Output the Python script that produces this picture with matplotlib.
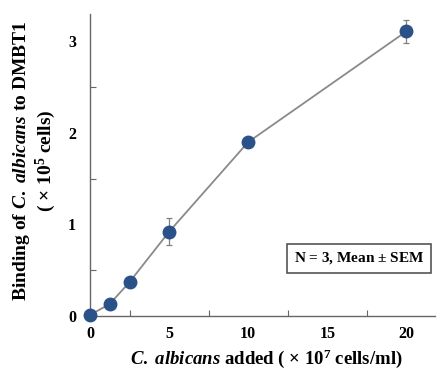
import matplotlib
matplotlib.use('Agg')
import matplotlib.pyplot as plt
from matplotlib.ticker import MultipleLocator

# data
cells_added = [0, 1.25, 2.5, 5, 10, 20]
binding = [0.01, 0.13, 0.37, 0.92, 1.90, 3.11]
sem_err = [0.0, 0.03, 0.02, 0.15, 0.02, 0.13]
x_ticks = [0, 5, 10, 15, 20]
y_ticks = [0, 1, 2, 3]

plt.rcParams['font.family'] = 'Liberation Serif'
plt.rcParams['font.weight'] = 'bold'
plt.rcParams['mathtext.fontset'] = 'custom'
plt.rcParams['mathtext.rm'] = 'Liberation Serif:bold'
plt.rcParams['mathtext.it'] = 'Liberation Serif:italic:bold'
plt.rcParams['mathtext.bf'] = 'Liberation Serif:bold'

fig = plt.figure(figsize=(4.37, 3.69), dpi=100)
ax = fig.add_axes([0.206, 0.144, 0.789, 0.818])

# grey connecting line, grey error bars, blue markers on top
ax.plot(cells_added, binding, '-', color='#8a8a8a', lw=1.3, zorder=2)
ax.errorbar(cells_added, binding, yerr=sem_err, fmt='none',
            ecolor='#808080', elinewidth=0.9, capsize=2.5, capthick=0.9, zorder=3)
ax.plot(cells_added, binding, 'o', color='#2b5288', markersize=9, zorder=4)

ax.set_xlim(0, 21.8)
ax.set_ylim(0, 3.3)
ax.set_xticks(x_ticks)
ax.set_yticks(y_ticks)
ax.xaxis.set_minor_locator(MultipleLocator(2.5))
ax.yaxis.set_minor_locator(MultipleLocator(0.5))
ax.tick_params(which='both', direction='in', width=0.8, color='#666666',
               labelsize=11.5, pad=10)
ax.tick_params(axis='x', pad=7)
ax.tick_params(which='major', length=0)
ax.tick_params(which='minor', length=4)
for lbl in ax.get_xticklabels() + ax.get_yticklabels():
    lbl.set_fontweight('bold')

for side in ['top', 'right']:
    ax.spines[side].set_visible(False)
for side in ['left', 'bottom']:
    ax.spines[side].set_color('#666666')
    ax.spines[side].set_linewidth(1.0)
for art in ax.get_children():
    art.set_clip_on(False)

fig.text(0.61, 0.028, r'$\mathit{C.\ albicans}$ added ( $\times$ 10$^{7}$ cells/ml)',
         ha='center', va='center', fontsize=13.5, fontweight='bold')
fig.text(0.05, 0.565, r'Binding of $\mathit{C.\ albicans}$ to DMBT1',
         rotation=90, ha='center', va='center', fontsize=14, fontweight='bold')
fig.text(0.105, 0.565, r'( $\times$ 10$^{5}$ cells)', rotation=90,
         ha='center', va='center', fontsize=14, fontweight='bold')

ax.text(0.78, 0.19, r'N = 3, Mean $\pm$ SEM', transform=ax.transAxes,
        ha='center', va='center', fontsize=11, fontweight='bold',
        bbox=dict(boxstyle='square,pad=0.45', fc='white', ec='#555555', lw=1.2))

plt.savefig('out.png', dpi=100)
